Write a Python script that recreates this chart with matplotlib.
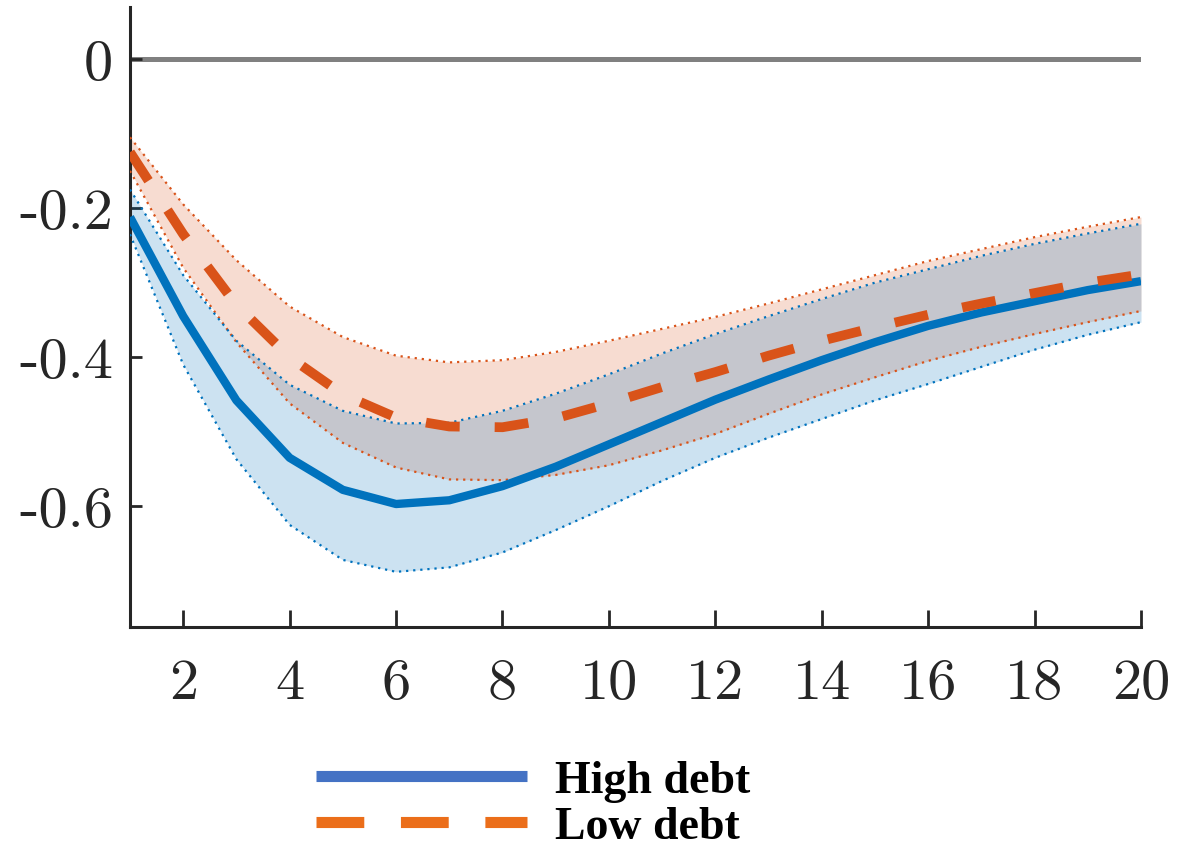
import matplotlib
matplotlib.use("Agg")
import matplotlib.pyplot as plt
from matplotlib.lines import Line2D

# ---- data ----
horizon = list(range(1, 21))
high_debt = [-0.212, -0.345, -0.458, -0.535, -0.578, -0.597, -0.592, -0.573, -0.547, -0.517,
             -0.487, -0.457, -0.430, -0.404, -0.380, -0.358, -0.340, -0.325, -0.310, -0.298]
high_upper = [-0.175, -0.290, -0.378, -0.437, -0.472, -0.489, -0.488, -0.472, -0.449, -0.423,
              -0.395, -0.369, -0.345, -0.322, -0.300, -0.282, -0.264, -0.248, -0.234, -0.221]
high_lower = [-0.235, -0.410, -0.537, -0.625, -0.672, -0.688, -0.682, -0.662, -0.632, -0.600,
              -0.566, -0.535, -0.508, -0.483, -0.458, -0.436, -0.413, -0.390, -0.370, -0.353]
low_debt = [-0.125, -0.235, -0.330, -0.400, -0.450, -0.481, -0.493, -0.494, -0.482, -0.462,
            -0.440, -0.420, -0.398, -0.378, -0.360, -0.343, -0.328, -0.314, -0.300, -0.289]
low_upper = [-0.105, -0.195, -0.270, -0.332, -0.373, -0.398, -0.407, -0.404, -0.393, -0.378,
             -0.362, -0.346, -0.328, -0.309, -0.290, -0.271, -0.255, -0.239, -0.225, -0.212]
low_lower = [-0.150, -0.280, -0.380, -0.462, -0.515, -0.548, -0.564, -0.565, -0.558, -0.545,
             -0.525, -0.503, -0.476, -0.450, -0.427, -0.405, -0.386, -0.369, -0.353, -0.338]
x_ticks = [2, 4, 6, 8, 10, 12, 14, 16, 18, 20]
y_ticks = [0, -0.2, -0.4, -0.6]
y_ticklabels = ["0", "-0.2", "-0.4", "-0.6"]
legend_labels = ["High debt", "Low debt"]

BLUE = "#0072BD"
ORANGE = "#D95319"

plt.rcParams["axes.unicode_minus"] = False

fig = plt.figure(figsize=(11.92, 8.53), dpi=100)
ax = fig.add_axes([130/1192, 1 - 628/853, (1141 - 130)/1192, (628 - 8)/853])

# zero line
ax.plot([horizon[0], horizon[-1]], [0, 0], color="#808080", lw=3.6, solid_capstyle="butt", zorder=1)

# bands
ax.fill_between(horizon, low_lower, low_upper, color=ORANGE, alpha=0.2, lw=0, zorder=2)
ax.fill_between(horizon, high_lower, high_upper, color=BLUE, alpha=0.2, lw=0, zorder=2)
for arr in (low_upper, low_lower):
    ax.plot(horizon, arr, color=ORANGE, lw=1.6, ls=(0, (1, 2.2)), zorder=3)
for arr in (high_upper, high_lower):
    ax.plot(horizon, arr, color=BLUE, lw=1.6, ls=(0, (1, 2.2)), zorder=3)

# central lines
ax.plot(horizon, high_debt, color=BLUE, lw=6, solid_capstyle="butt",
        solid_joinstyle="round", zorder=4)
ax.plot(horizon, low_debt, color=ORANGE, lw=7, ls=(0, (3.5, 3.6)),
        dash_capstyle="butt", zorder=5)

ax.set_xlim(1, 20)
ax.set_ylim(-0.762, 0.0698)
ax.set_xticks(x_ticks)
ax.set_xticklabels([str(t) for t in x_ticks])
ax.set_yticks(y_ticks)
ax.set_yticklabels(y_ticklabels)

for s in ("top", "right"):
    ax.spines[s].set_visible(False)
for s in ("left", "bottom"):
    ax.spines[s].set_linewidth(2.2)
    ax.spines[s].set_color("#262626")

ax.tick_params(axis="x", direction="in", length=12, width=2, color="#262626", pad=22)
ax.tick_params(axis="y", direction="in", length=8.5, width=2, color="#262626", pad=12)
for lab in ax.get_xticklabels() + ax.get_yticklabels():
    lab.set_fontfamily("cmr10")
    lab.set_fontsize(42)
    lab.set_color("#262626")

handles = [
    Line2D([], [], color="#4472C4", lw=8, solid_capstyle="butt"),
    Line2D([], [], color="#EB6E1A", lw=8, ls=(0, (4.3, 3.3)), dash_capstyle="butt"),
]
fig.legend(handles, legend_labels, loc="center", bbox_to_anchor=(533/1192, 1 - 805/853),
           frameon=False, handlelength=4.6, handletextpad=0.6, labelspacing=0.1,
           borderpad=0, prop={"family": "Liberation Serif", "weight": "bold", "size": 33})

fig.savefig("out.png", dpi=100)
